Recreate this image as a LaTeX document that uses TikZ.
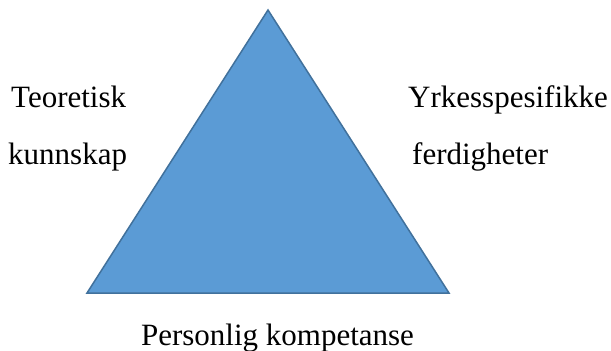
\documentclass[tikz,border=0pt]{standalone}
\usepackage{fontspec}
\setmainfont[Ligatures={TeX,NoCommon}]{Liberation Serif}
\usepackage{tikz}
\definecolor{trekantfyll}{HTML}{5B9BD5}
\definecolor{trekantkant}{HTML}{41719C}
\tikzstyle{trekant} = [fill=trekantfyll,draw=trekantkant,line width=1.5pt,line join=miter]
\tikzstyle{tekst} = [inner sep=0pt,font=\fontsize{31}{37}\selectfont]

\begin{document}
\begin{tikzpicture}[x=1pt,y=-1pt]
      \useasboundingbox (0,0) rectangle (611,351);

      % Trekanten
      \coordinate (topp) at (268,10);
      \coordinate (venstre) at (87,293);
      \coordinate (hoyre) at (449,293);
      \draw[trekant] (topp) -- (venstre) -- (hoyre) -- cycle;

      % Venstre side
      \node[tekst,anchor=base west] (teoretisk) at (11,107) {Teoretisk};
      \node[tekst,anchor=base west] (kunnskap) at (8,164) {kunnskap};

      % Hoyre side
      \node[tekst,anchor=base west] (yrkes) at (408,107) {Yrkesspesifikke};
      \node[tekst,anchor=base west] (ferdig) at (412,164) {ferdigheter};

      % Under
      \node[tekst,anchor=base] (personlig) at (277.5,345) {Personlig kompetanse};

    \end{tikzpicture}
\end{document}
